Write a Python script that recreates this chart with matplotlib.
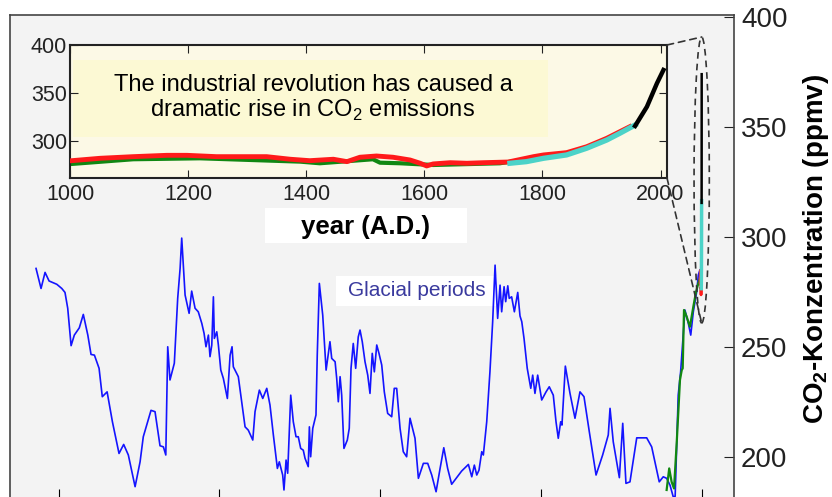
import matplotlib
matplotlib.use("Agg")
import matplotlib.pyplot as plt
from matplotlib.patches import Ellipse, Rectangle, ConnectionPatch
import numpy as np

plt.rcParams["font.family"] = "Liberation Sans"
plt.rcParams["mathtext.fontset"] = "custom"
plt.rcParams["mathtext.rm"] = "Liberation Sans"
plt.rcParams["mathtext.bf"] = "Liberation Sans:bold"

# Vostok ice core: age in kyr before present, CO2 in ppmv
vostok_age = [414.0, 410.9, 408.4, 405.9, 401.1, 398.0, 396.0, 394.3, 392.2, 390.2,
              387.1, 384.6, 381.8, 379.8, 377.7, 374.8, 372.8, 369.8, 366.5, 362.4,
              359.5, 356.6, 352.4, 349.3, 347.3, 342.5, 340.0, 336.9, 334.8, 333.3,
              332.1, 330.7, 328.0, 325.9, 324.4, 323.4, 321.3, 318.8, 317.2, 315.1,
              313.1, 310.9, 309.5, 308.3, 306.8, 305.8, 304.7, 303.7, 303.1, 301.6,
              300.6, 299.1, 297.5, 295.0, 293.3, 292.1, 291.3, 288.2, 286.1, 284.0,
              282.0, 279.2, 277.8, 275.1, 273.0, 270.5, 268.5, 266.4, 263.9, 262.7,
              260.6, 259.8, 258.5, 257.5, 256.5, 255.6, 254.0, 252.3, 250.9, 249.4,
              247.8, 246.7, 244.7, 244.0, 243.2, 241.9, 239.9, 239.1, 237.8, 235.7,
              233.6, 232.2, 231.2, 230.1, 228.0, 227.0, 226.0, 224.9, 223.9, 222.5,
              220.4, 219.2, 218.1, 216.7, 215.2, 213.6, 212.5, 211.1, 209.4, 207.7,
              206.3, 204.9, 203.6, 202.1, 200.7, 199.0, 197.4, 195.3, 192.8, 191.2,
              189.7, 187.6, 185.6, 183.5, 181.4, 178.3, 176.2, 173.1, 170.4, 167.9,
              165.2, 162.7, 160.4, 158.0, 155.5, 152.4, 149.3, 145.1, 143.0, 141.4,
              139.9, 138.5, 136.8, 135.8, 133.7, 131.7, 130.0, 128.5, 126.9, 125.4,
              124.4, 122.9, 121.9, 120.6, 119.7, 118.2, 116.5, 114.4, 113.0, 111.9,
              110.5, 108.5, 106.3, 105.1, 103.7, 102.0, 99.5, 96.8, 94.8, 92.3,
              90.6, 89.2, 87.7, 86.9, 84.8, 81.9, 78.8, 75.7, 73.2, 69.9,
              65.7, 61.6, 58.1, 57.0, 55.0, 51.2, 49.1, 47.1, 44.6, 40.4,
              34.2, 31.1, 26.4, 23.9, 21.8, 19.7, 17.7, 16.5, 14.6, 13.1,
              10.4, 8.3, 6.8, 5.2, 3.1, 2.1, 1.1]
vostok_co2 = [285.6, 276.5, 283.8, 279.9, 278.4, 276.5, 274.7, 267.5, 250.5, 255.3,
              258.6, 264.7, 255.3, 246.5, 246.2, 240.2, 227.3, 229.5, 215.9, 201.5,
              205.6, 200.8, 186.4, 197.7, 209.1, 221.1, 220.5, 205.0, 204.5, 200.8,
              250.0, 234.9, 242.5, 272.0, 285.6, 299.4, 273.5, 265.2, 275.3, 267.5,
              265.9, 260.6, 256.1, 250.0, 255.3, 245.5, 250.8, 272.7, 253.8, 256.8,
              250.8, 239.4, 235.6, 226.5, 246.2, 250.0, 240.9, 236.4, 225.0, 213.6,
              212.1, 207.6, 220.5, 230.3, 226.5, 231.1, 223.5, 209.9, 194.7, 197.7,
              191.7, 184.9, 198.5, 192.5, 211.4, 228.0, 215.9, 209.1, 209.1, 203.8,
              203.0, 199.3, 195.5, 213.6, 200.0, 212.9, 219.0, 246.2, 278.8, 264.4,
              239.4, 247.0, 252.3, 244.7, 243.2, 235.6, 225.0, 236.4, 228.0, 203.8,
              207.6, 212.9, 240.2, 251.5, 240.2, 254.5, 257.6, 252.3, 243.2, 237.1,
              228.8, 247.0, 238.6, 250.8, 247.0, 241.7, 229.5, 219.7, 218.2, 231.1,
              231.1, 212.9, 202.3, 200.0, 217.5, 208.4, 190.2, 197.0, 197.0, 191.7,
              184.1, 194.7, 204.1, 194.7, 187.5, 190.5, 193.5, 196.5, 190.9, 196.2,
              191.7, 193.9, 202.3, 200.8, 215.9, 238.6, 261.4, 287.1, 262.9, 278.0,
              265.9, 277.3, 270.5, 277.7, 272.0, 272.7, 265.9, 274.7, 264.0, 261.4,
              253.8, 240.2, 231.1, 237.1, 228.8, 237.1, 225.8, 229.5, 231.8, 228.0,
              215.9, 208.4, 215.9, 214.4, 241.2, 228.8, 217.5, 229.5, 227.3, 211.4,
              191.7, 200.8, 209.9, 222.0, 206.8, 190.5, 215.2, 187.9, 188.6, 208.6,
              208.6, 204.5, 188.6, 190.9, 190.2, 187.1, 181.8, 182.0, 228.0, 238.6,
              266.7, 260.6, 255.3, 265.9, 275.0, 282.6, 284.9]

# Dome C record over the last deglaciation
dome_age = [21.8, 20.2, 18.7, 17.2, 15.5, 13.5, 12.4, 11.8, 11.0, 9.3, 7.3, 5.2, 3.5, 2.1, 1.1]
dome_co2 = [184.9, 194.7, 188.6, 185.6, 206.8, 234.9, 239.4, 240.2, 266.7, 263.6,
            259.1, 268.2, 275.0, 278.8, 281.2]

# Last millennium (year A.D., ppmv)
law_year = [1003, 1107, 1220, 1390, 1423, 1513, 1525, 1559, 1615, 1728, 1784]
law_co2 = [275.7, 280.6, 281.6, 278.1, 276.4, 280.6, 277.0, 276.4, 274.6, 276.4, 281.6]

dml_year = [1003, 1051, 1107, 1164, 1198, 1248, 1333, 1373, 1406, 1446, 1469, 1491,
            1519, 1547, 1576, 1593, 1604, 1615, 1644, 1672, 1700, 1742, 1785, 1802,
            1841, 1875, 1909, 1948]
dml_co2 = [279.1, 281.6, 283.3, 284.7, 284.7, 283.3, 283.3, 280.6, 279.1, 280.6, 278.1,
           282.7, 284.0, 282.7, 279.8, 276.4, 273.6, 275.7, 277.0, 276.4, 277.0, 277.7,
           283.3, 285.1, 287.5, 293.7, 302.5, 314.6]

siple_year = [1745, 1773, 1802, 1841, 1875, 1909, 1931, 1957]
siple_co2 = [276.4, 278.1, 281.6, 285.1, 292.1, 300.7, 307.7, 316.4]

mlo_year = [1957, 1977, 1994, 2005]
mlo_co2 = [315.4, 335.5, 360.0, 373.9]

BLUE = "#1414ff"
GREEN = "#118811"
RED = "#ff1a1a"
CYAN = "#4cd3c8"


def to_kyr(years):
    return (np.array(years) - 2000) / 1000.0


fig = plt.figure(figsize=(8.32, 4.97), dpi=100)

# --- main axes: glacial cycles ---
ax = fig.add_axes([10 / 832, 1 - 499 / 497, 724 / 832, 484 / 497])
ax.set_facecolor("#f3f3f3")
ax.plot(-np.array(vostok_age), vostok_co2, color=BLUE, lw=1.2, zorder=3)
ax.plot(-np.array(dome_age), dome_co2, color=GREEN, lw=1.6, zorder=4)
ax.plot(to_kyr(dml_year), dml_co2, color=RED, lw=2.0, zorder=4)
ax.plot(to_kyr(siple_year), siple_co2, color=CYAN, lw=2.5, zorder=5)
ax.plot(to_kyr(mlo_year), mlo_co2, color="black", lw=1.8, zorder=6)

ax.set_xlim(-430.2, 20.1)
ax.set_ylim(180.8, 400.8)
ax.set_xticks([-400, -300, -200, -100, 0])
ax.tick_params(axis="x", direction="in", length=7, labelbottom=False)
ax.yaxis.tick_right()
ax.set_yticks([200, 250, 300, 350, 400])
ax.tick_params(axis="y", direction="in", length=7, labelsize=20, pad=5,
               colors="#222222")
for side in ["left", "top", "right", "bottom"]:
    ax.spines[side].set_color("#444444")
    ax.spines[side].set_linewidth(1.2)

# zoom ellipse around the recent rise
ell = Ellipse((0, 325.8), width=9.5, height=130, fill=False, edgecolor="#333333",
              lw=1.2, linestyle=(0, (4, 3)), zorder=7)
ax.add_patch(ell)

# label boxes on the main panel
ax.add_patch(Rectangle((0.3522, 0.5289), 0.2790, 0.0723, transform=ax.transAxes,
                       facecolor="white", edgecolor="none", zorder=1))
ax.text(0.4917, 0.5630, "year (A.D.)", transform=ax.transAxes, fontsize=18.5,
        fontweight="bold", ha="center", va="center", zorder=2)
ax.add_patch(Rectangle((0.4503, 0.3988), 0.2224, 0.0619, transform=ax.transAxes,
                       facecolor="white", edgecolor="none", zorder=1))
ax.text(0.5615, 0.4298, "Glacial periods", transform=ax.transAxes, fontsize=15,
        color="#3a3a9e", ha="center", va="center", zorder=2)

fig.text(816 / 832, 0.50, r"CO$_\mathbf{2}$-Konzentration (ppmv)", rotation=90,
         fontsize=20, fontweight="bold", ha="center", va="center")

# --- inset: last 1000 years ---
axin = fig.add_axes([70 / 832, 1 - 178 / 497, 597 / 832, 133 / 497])
axin.set_facecolor("#fcf9e6")
axin.add_patch(Rectangle((0.005, 0.308), 0.795, 0.579, transform=axin.transAxes,
                         facecolor="#fcf9d4", edgecolor="none", zorder=0))
axin.plot(law_year, law_co2, color=GREEN, lw=3.0, zorder=2)
axin.plot(dml_year, dml_co2, color=RED, lw=3.5, zorder=3)
axin.plot(siple_year, siple_co2, color=CYAN, lw=3.8, zorder=4)
axin.plot(mlo_year, mlo_co2, color="black", lw=3.2, zorder=5)
axin.set_xlim(1000, 2011)
axin.set_ylim(261, 400)
axin.set_xticks([1000, 1200, 1400, 1600, 1800, 2000])
axin.set_yticks([300, 350, 400])
axin.tick_params(direction="in", length=6, labelsize=15.5, top=True, right=True,
                 colors="#222222")
axin.tick_params(axis="x", pad=4)
axin.tick_params(axis="y", pad=2)
for side in ["left", "top", "right", "bottom"]:
    axin.spines[side].set_color("#222222")
    axin.spines[side].set_linewidth(1.5)
axin.text(0.407, 0.60, "The industrial revolution has caused a\n"
          "dramatic rise in CO$_2$ emissions", transform=axin.transAxes,
          fontsize=17, ha="center", va="center", linespacing=1.1)

# dashed connectors from the inset corners to the ellipse
for corner, target in [((1, 1), (0, 390.8)), ((1, 0), (0, 260.8))]:
    con = ConnectionPatch(xyA=corner, coordsA=axin.transAxes, xyB=target,
                          coordsB=ax.transData, color="#333333", lw=1.2,
                          linestyle=(0, (4, 3)))
    fig.add_artist(con)

fig.savefig("out.png", dpi=100)
